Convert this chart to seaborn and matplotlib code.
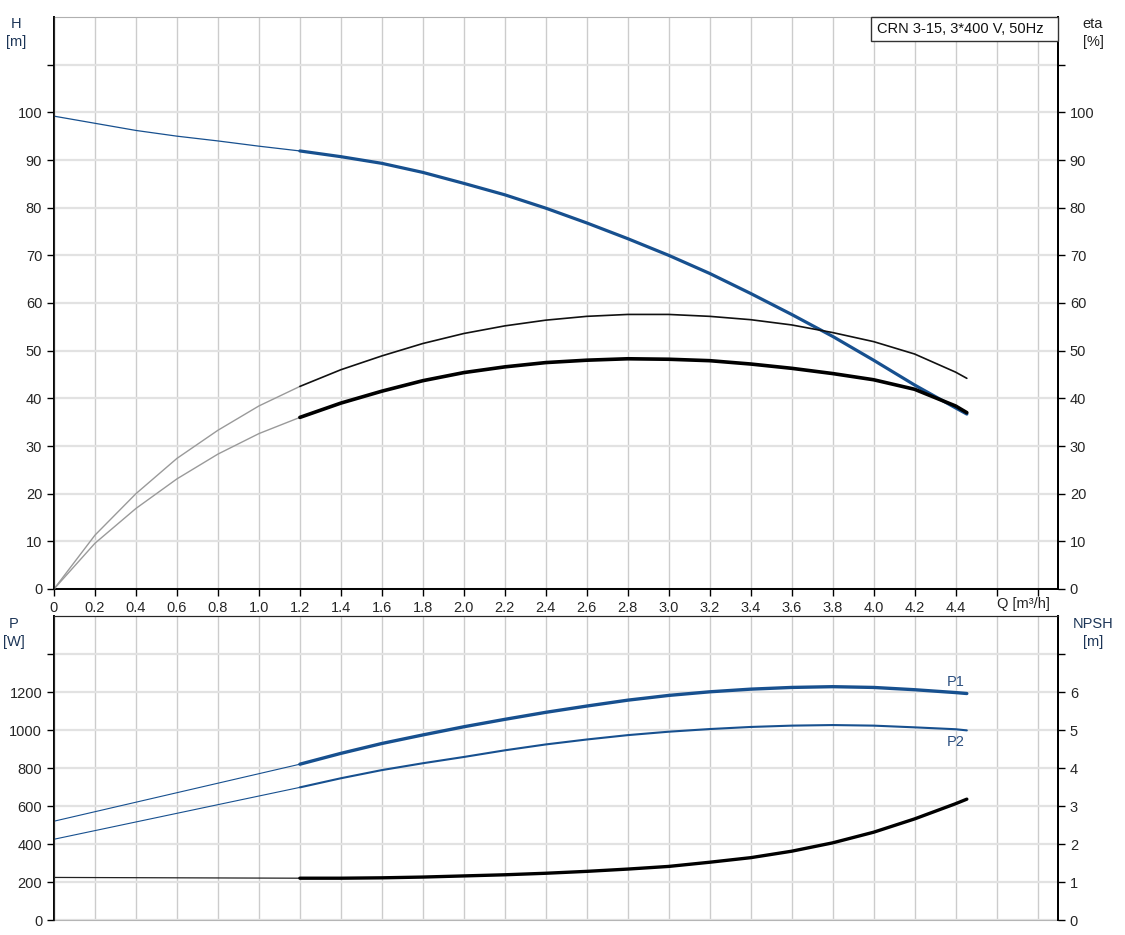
import numpy as np
import matplotlib
matplotlib.use("Agg")
import matplotlib.pyplot as plt
from matplotlib.patches import Rectangle
import seaborn as sns

# Flow points (m3/h)
q = [0.0, 0.2, 0.4, 0.6, 0.8, 1.0, 1.2, 1.4, 1.6, 1.8, 2.0, 2.2, 2.4, 2.6,
     2.8, 3.0, 3.2, 3.4, 3.6, 3.8, 4.0, 4.2, 4.4, 4.455]
head = [99.2, 97.7, 96.2, 95.0, 94.0, 92.9, 91.9, 90.7, 89.3, 87.4, 85.1, 82.7,
        79.9, 76.8, 73.5, 70.0, 66.2, 62.0, 57.6, 53.0, 48.0, 42.8, 38.0, 36.7]
eta_pump = [0, 11.3, 20.0, 27.4, 33.3, 38.4, 42.5, 46.0, 48.9, 51.5, 53.6, 55.2,
            56.4, 57.2, 57.6, 57.6, 57.2, 56.5, 55.4, 53.8, 51.9, 49.3, 45.5, 44.2]
eta_total = [0, 9.6, 16.9, 23.1, 28.3, 32.6, 36.0, 39.0, 41.5, 43.7, 45.4, 46.6,
             47.5, 48.0, 48.3, 48.2, 47.9, 47.2, 46.3, 45.2, 43.9, 41.9, 38.4, 37.0]

q_pow = [0.0, 1.2, 1.4, 1.6, 1.8, 2.0, 2.2, 2.4, 2.6, 2.8, 3.0, 3.2, 3.4, 3.6,
         3.8, 4.0, 4.2, 4.4, 4.455]
p1 = [520, 820, 877, 929, 974, 1017, 1056, 1093, 1126, 1157, 1182, 1201, 1215,
      1224, 1228, 1224, 1212, 1197, 1192]
p2 = [425, 698, 746, 789, 825, 858, 893, 924, 950, 973, 991, 1005, 1016, 1023,
      1026, 1023, 1014, 1004, 998]
npsh = [1.12, 1.10, 1.10, 1.11, 1.13, 1.16, 1.19, 1.23, 1.28, 1.34, 1.41, 1.52,
        1.64, 1.81, 2.03, 2.31, 2.66, 3.06, 3.18]

x_ticks = [round(0.2 * i, 1) for i in range(25)]
x_labels = ["0"] + [f"{v:.1f}" for v in x_ticks[1:23]] + ["", ""]
title_box = "CRN 3-15, 3*400 V, 50Hz"

BLUE = "#17508f"
GREY = "#9a9a9a"
LABEL = "#1c3557"
Q_SPLIT = 1.2

sns.set_style("white")
plt.rcParams["font.family"] = ["Liberation Sans", "DejaVu Sans"]
plt.rcParams["font.size"] = 10
plt.rcParams["lines.solid_joinstyle"] = "round"
plt.rcParams["lines.solid_capstyle"] = "round"


def curve(ax, xs, ys, thin_color, thick_color, thin_lw, thick_lw):
    xs = np.asarray(xs)
    ys = np.asarray(ys)
    lo = xs <= Q_SPLIT
    hi = xs >= Q_SPLIT
    sns.lineplot(x=xs[lo], y=ys[lo], ax=ax, color=thin_color, linewidth=thin_lw)
    sns.lineplot(x=xs[hi], y=ys[hi], ax=ax, color=thick_color, linewidth=thick_lw)


def style_axis(ax, ymax, ystep, nlab, right=False):
    ticks = np.arange(0, ymax, ystep)
    ax.set_ylim(0, ymax)
    ax.set_yticks(ticks)
    labels = [f"{t:g}" if i <= nlab else "" for i, t in enumerate(ticks)]
    ax.set_yticklabels(labels)
    ax.tick_params(axis="y", length=5, width=1, color="black", labelsize=10.5,
                   direction="out", left=not right, right=right,
                   labelleft=not right, labelright=right)
    ax.set_ylabel("")
    ax.set_xlabel("")


fig = plt.figure(figsize=(11.25, 9.35), dpi=100)
W, H = 1125, 935
ax_top = fig.add_axes([54 / W, 1 - 589 / H, 1004 / W, 572 / H])
ax_bot = fig.add_axes([54 / W, 1 - 920 / H, 1004 / W, 304 / H])

for ax in (ax_top, ax_bot):
    ax.set_xlim(0, 4.9)
    ax.set_xticks(x_ticks)
    ax.grid(True, axis="x", color="#cccccc", linewidth=1)
    ax.grid(True, axis="y", color="#e2e2e2", linewidth=1.6)
    ax.set_axisbelow(True)
    for s in ("left", "right"):
        ax.spines[s].set_color("black")
        ax.spines[s].set_linewidth(1.4)

# top panel: head and efficiencies
eta_ax = ax_top.twinx()
curve(ax_top, q, head, BLUE, BLUE, 0.9, 2.3)
curve(eta_ax, q, eta_pump, GREY, "#111111", 1.0, 1.2)
curve(eta_ax, q, eta_total, GREY, "#000000", 1.0, 2.6)
style_axis(ax_top, 120, 10, 10)
style_axis(eta_ax, 120, 10, 10, right=True)
eta_ax.grid(False)
ax_top.set_xticklabels(x_labels)
ax_top.tick_params(axis="x", length=5, width=1, color="black", labelsize=10.5,
                   bottom=True, direction="out")
ax_top.spines["bottom"].set_color("black")
ax_top.spines["bottom"].set_linewidth(1.4)
ax_top.spines["top"].set_color("#b0b0b0")
eta_ax.spines["top"].set_visible(False)
eta_ax.spines["bottom"].set_visible(False)
eta_ax.spines["right"].set_color("black")
eta_ax.spines["right"].set_linewidth(1.4)

# model box in the top right corner
eta_ax.add_patch(Rectangle((817 / 1004, 548 / 572), 187 / 1004, 24 / 572,
                           transform=eta_ax.transAxes, facecolor="white",
                           edgecolor="#333333", linewidth=1, zorder=5,
                           clip_on=False))
eta_ax.text(823 / 1004, 560 / 572, title_box, transform=eta_ax.transAxes,
            ha="left", va="center", fontsize=10.5, color="#111111", zorder=6)

# bottom panel: power and NPSH
npsh_ax = ax_bot.twinx()
curve(ax_bot, q_pow, p1, BLUE, BLUE, 0.8, 2.4)
curve(ax_bot, q_pow, p2, BLUE, BLUE, 0.8, 1.5)
curve(npsh_ax, q_pow, npsh, "#222222", "#000000", 0.9, 2.4)
style_axis(ax_bot, 1600, 200, 6)
style_axis(npsh_ax, 8, 1, 6, right=True)
npsh_ax.grid(False)
ax_bot.tick_params(axis="x", bottom=False, labelbottom=False)
ax_bot.spines["bottom"].set_color("#b5b5b5")
ax_bot.spines["top"].set_color("#333333")
npsh_ax.spines["bottom"].set_visible(False)
npsh_ax.spines["right"].set_color("black")
npsh_ax.spines["right"].set_linewidth(1.4)
ax_bot.text(4.4, p1[-1] + 25, "P1", ha="center", va="bottom", fontsize=10.5,
            color="#2b4f80")
ax_bot.text(4.4, p2[-1] - 25, "P2", ha="center", va="top", fontsize=10.5,
            color="#2b4f80")

fig.text(997 / W, 1 - 604 / H, "Q [m³/h]", ha="left", va="center",
         fontsize=10.5, color="#222222")
fig.text(16 / W, 1 - 33 / H, "H\n[m]", ha="center", va="center", fontsize=10.5,
         color=LABEL, linespacing=1.35)
fig.text(1093 / W, 1 - 33 / H, "eta\n[%]", ha="center", va="center",
         fontsize=10.5, color="#222222", linespacing=1.35)
fig.text(14 / W, 1 - 633 / H, "P\n[W]", ha="center", va="center", fontsize=10.5,
         color=LABEL, linespacing=1.35)
fig.text(1093 / W, 1 - 633 / H, "NPSH\n[m]", ha="center", va="center",
         fontsize=10.5, color=LABEL, linespacing=1.35)

fig.savefig("out.png", dpi=100, facecolor="white")
